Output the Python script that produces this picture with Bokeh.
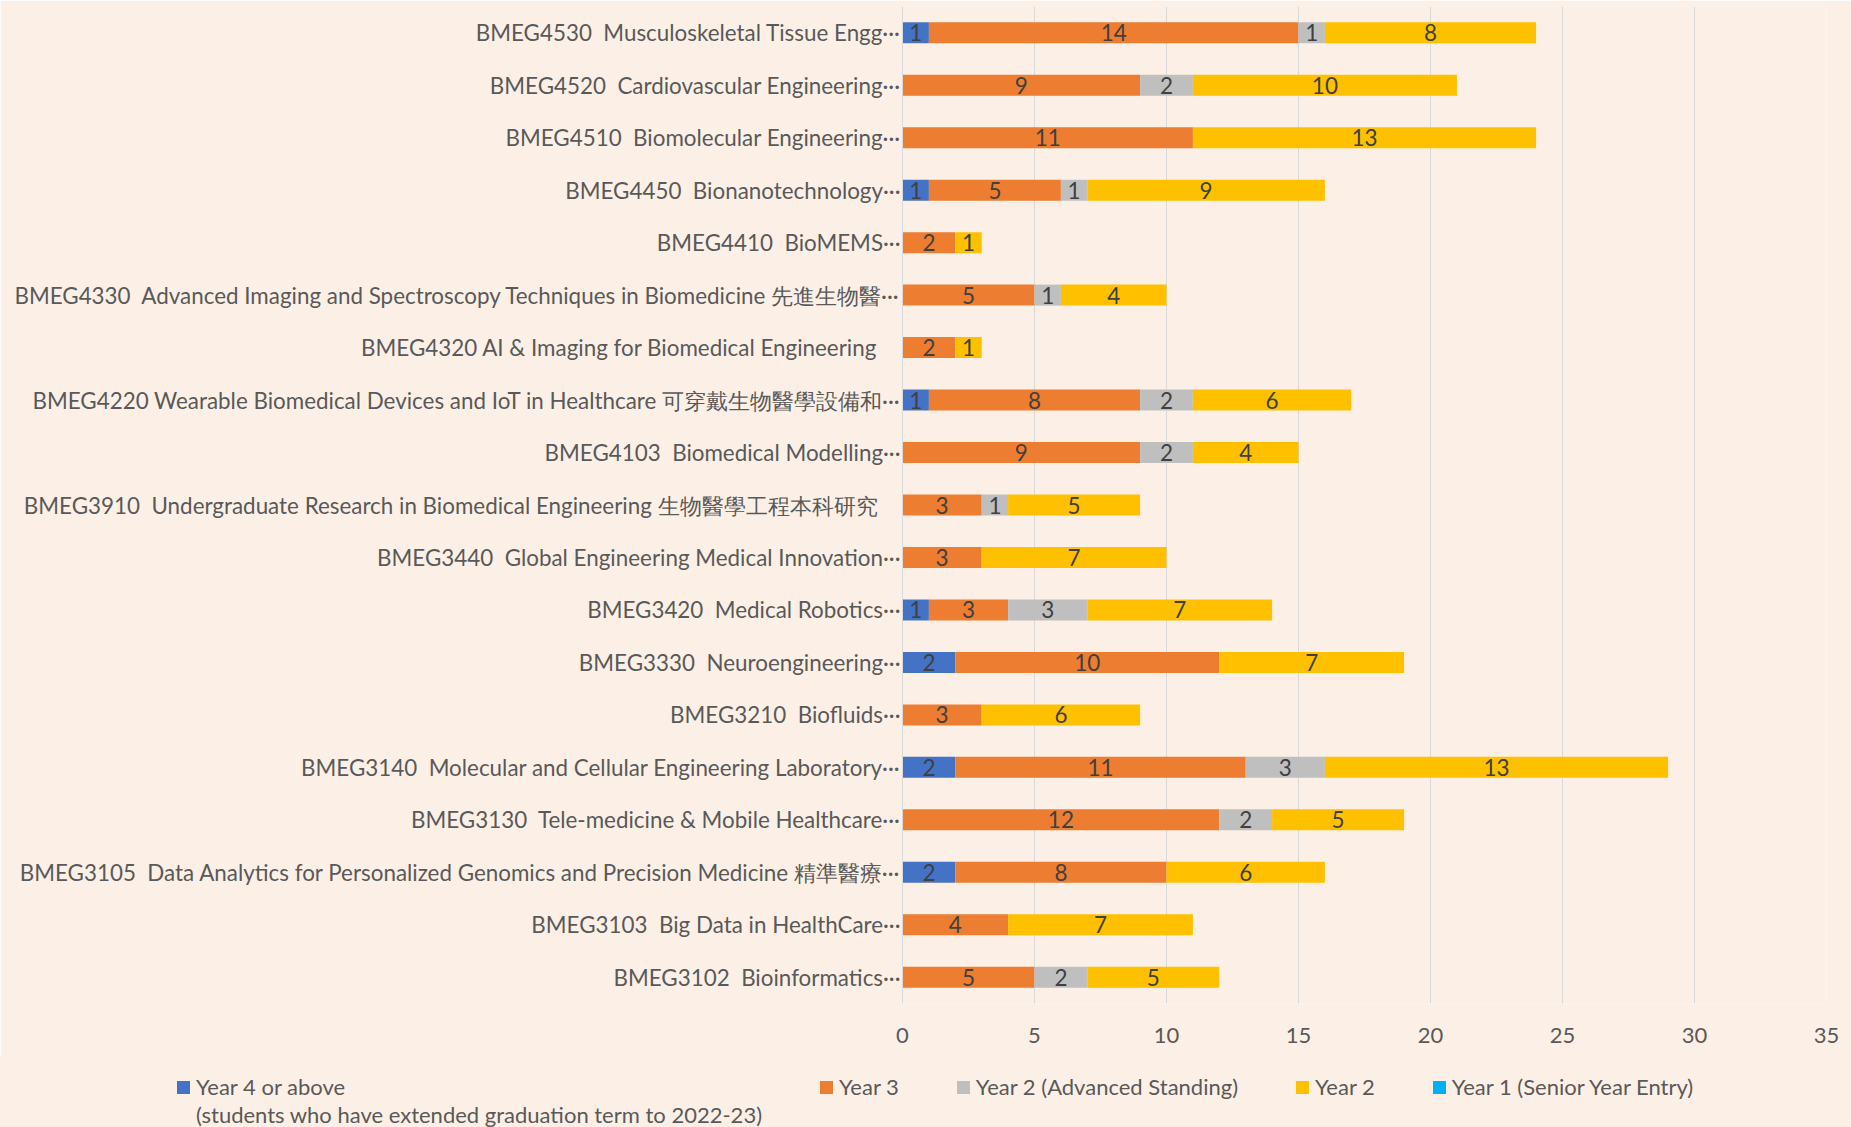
from bokeh.plotting import figure
from bokeh.layouts import column
from bokeh.models import FactorRange, Range1d, FixedTicker, ColumnDataSource, Div
from bokeh.core.properties import value
from bokeh.embed import file_html
from bokeh.resources import INLINE

S2 = "\u00a0 "
courses = [
    "BMEG4530" + S2 + "Musculoskeletal Tissue Engg···",
    "BMEG4520" + S2 + "Cardiovascular Engineering···",
    "BMEG4510" + S2 + "Biomolecular Engineering···",
    "BMEG4450" + S2 + "Bionanotechnology···",
    "BMEG4410" + S2 + "BioMEMS···",
    "BMEG4330" + S2 + "Advanced Imaging and Spectroscopy Techniques in Biomedicine 先進生物醫···",
    "BMEG4320 AI & Imaging for Biomedical Engineering\u00a0\u00a0\u00a0\u00a0",
    "BMEG4220 Wearable Biomedical Devices and IoT in Healthcare 可穿戴生物醫學設備和···",
    "BMEG4103" + S2 + "Biomedical Modelling···",
    "BMEG3910" + S2 + "Undergraduate Research in Biomedical Engineering 生物醫學工程本科研究\u00a0\u00a0\u00a0\u00a0",
    "BMEG3440" + S2 + "Global Engineering Medical Innovation···",
    "BMEG3420" + S2 + "Medical Robotics···",
    "BMEG3330" + S2 + "Neuroengineering···",
    "BMEG3210" + S2 + "Biofluids···",
    "BMEG3140" + S2 + "Molecular and Cellular Engineering Laboratory···",
    "BMEG3130" + S2 + "Tele-medicine & Mobile Healthcare···",
    "BMEG3105" + S2 + "Data Analytics for Personalized Genomics and Precision Medicine 精準醫療···",
    "BMEG3103" + S2 + "Big Data in HealthCare···",
    "BMEG3102" + S2 + "Bioinformatics···",
]
year4_above = [1, 0, 0, 1, 0, 0, 0, 1, 0, 0, 0, 1, 2, 0, 2, 0, 2, 0, 0]
year3 = [14, 9, 11, 5, 2, 5, 2, 8, 9, 3, 3, 3, 10, 3, 11, 12, 8, 4, 5]
year2_adv = [1, 2, 0, 1, 0, 1, 0, 2, 2, 1, 0, 3, 0, 0, 3, 2, 0, 0, 2]
year2 = [8, 10, 13, 9, 1, 4, 1, 6, 4, 5, 7, 7, 7, 6, 13, 5, 6, 7, 5]
year1_senior = [0, 0, 0, 0, 0, 0, 0, 0, 0, 0, 0, 0, 0, 0, 0, 0, 0, 0, 0]

series_labels = [
    "Year 4 or above\n(students who have extended graduation term to 2022-23)",
    "Year 3",
    "Year 2 (Advanced Standing)",
    "Year 2",
    "Year 1 (Senior Year Entry)",
]
series_colors = ["#4472C4", "#ED7D31", "#BFBFBF", "#FFC000", "#00B0F0"]
x_ticks = [0, 5, 10, 15, 20, 25, 30, 35]

FONT = "Lato"
FS = "22px"
BG = "#FCF0E6"
TXT = "#595959"

keys = ["y4", "y3", "y2a", "y2", "y1"]
series = [year4_above, year3, year2_adv, year2, year1_senior]
src = ColumnDataSource(dict(course=courses, y4=year4_above, y3=year3, y2a=year2_adv,
                            y2=year2, y1=year1_senior))

p = figure(width=1851, height=1056,
           y_range=FactorRange(*list(reversed(courses))),
           x_range=Range1d(0, 35),
           output_backend="svg", toolbar_location=None,
           background_fill_color=BG, border_fill_color=BG,
           outline_line_color=None,
           min_border_left=902, min_border_right=25,
           min_border_top=6, min_border_bottom=53)

renderers = p.hbar_stack(keys, y="course", height=0.4, color=series_colors,
                         line_color=None, source=src)

# segment value labels
lx, ly, lt = [], [], []
for i, c in enumerate(courses):
    left = 0
    for s in series:
        v = s[i]
        if v > 0:
            lx.append(left + v / 2)
            ly.append(c)
            lt.append(str(v))
        left += v
p.text(x="x", y="y", text="t", source=ColumnDataSource(dict(x=lx, y=ly, t=lt)),
       text_align="center", text_baseline="middle", text_font=value(FONT),
       text_font_size="22.5px", text_color="#404040")

p.xgrid.grid_line_color = "#D9D9D9"
p.xgrid.grid_line_width = 1
p.ygrid.grid_line_color = None

p.xaxis.ticker = FixedTicker(ticks=x_ticks)
p.xaxis.axis_line_color = None
p.xaxis.major_tick_line_color = None
p.xaxis.minor_tick_line_color = None
p.xaxis.major_tick_out = 0
p.xaxis.major_tick_in = 0
p.xaxis.major_label_text_font = FONT
p.xaxis.major_label_text_font_size = FS
p.xaxis.major_label_text_color = TXT
p.xaxis.major_label_standoff = 24

p.yaxis.axis_line_color = "#D9D9D9"
p.yaxis.major_tick_line_color = None
p.yaxis.minor_tick_line_color = None
p.yaxis.major_tick_out = 0
p.yaxis.major_tick_in = 0
p.yaxis.major_label_text_font = FONT
p.yaxis.major_label_text_font_size = "22.4px"
p.yaxis.major_label_text_color = TXT
p.yaxis.major_label_standoff = 2

# legend strip below the chart
parts = []
for i, (lab, col) in enumerate(zip(series_labels, series_colors)):
    ml = 177 if i == 0 else 58
    parts.append(
        f'<div style="display:flex;align-items:flex-start;margin-left:{ml}px;flex:none">'
        f'<span style="display:inline-block;width:13px;height:13px;background:{col};'
        f'margin-top:7.5px;margin-right:6px;flex:none"></span>'
        f'<span style="white-space:pre">{lab.replace(chr(10), "<br>")}</span></div>'
    )
legend_html = (
    f'<div style="display:flex;flex-direction:row;font-family:{FONT};font-size:{FS};'
    f'line-height:28px;color:{TXT};padding-top:17px;width:1851px;height:71px;'
    f'box-sizing:border-box;background:{BG};overflow:hidden">' + "".join(parts) + "</div>"
)
legend_div = Div(text=legend_html, width=1851, height=71, margin=0,
                 styles={"background-color": BG})

layout = column(p, legend_div, spacing=0)
open("out.html", "w").write(file_html(layout, INLINE))
